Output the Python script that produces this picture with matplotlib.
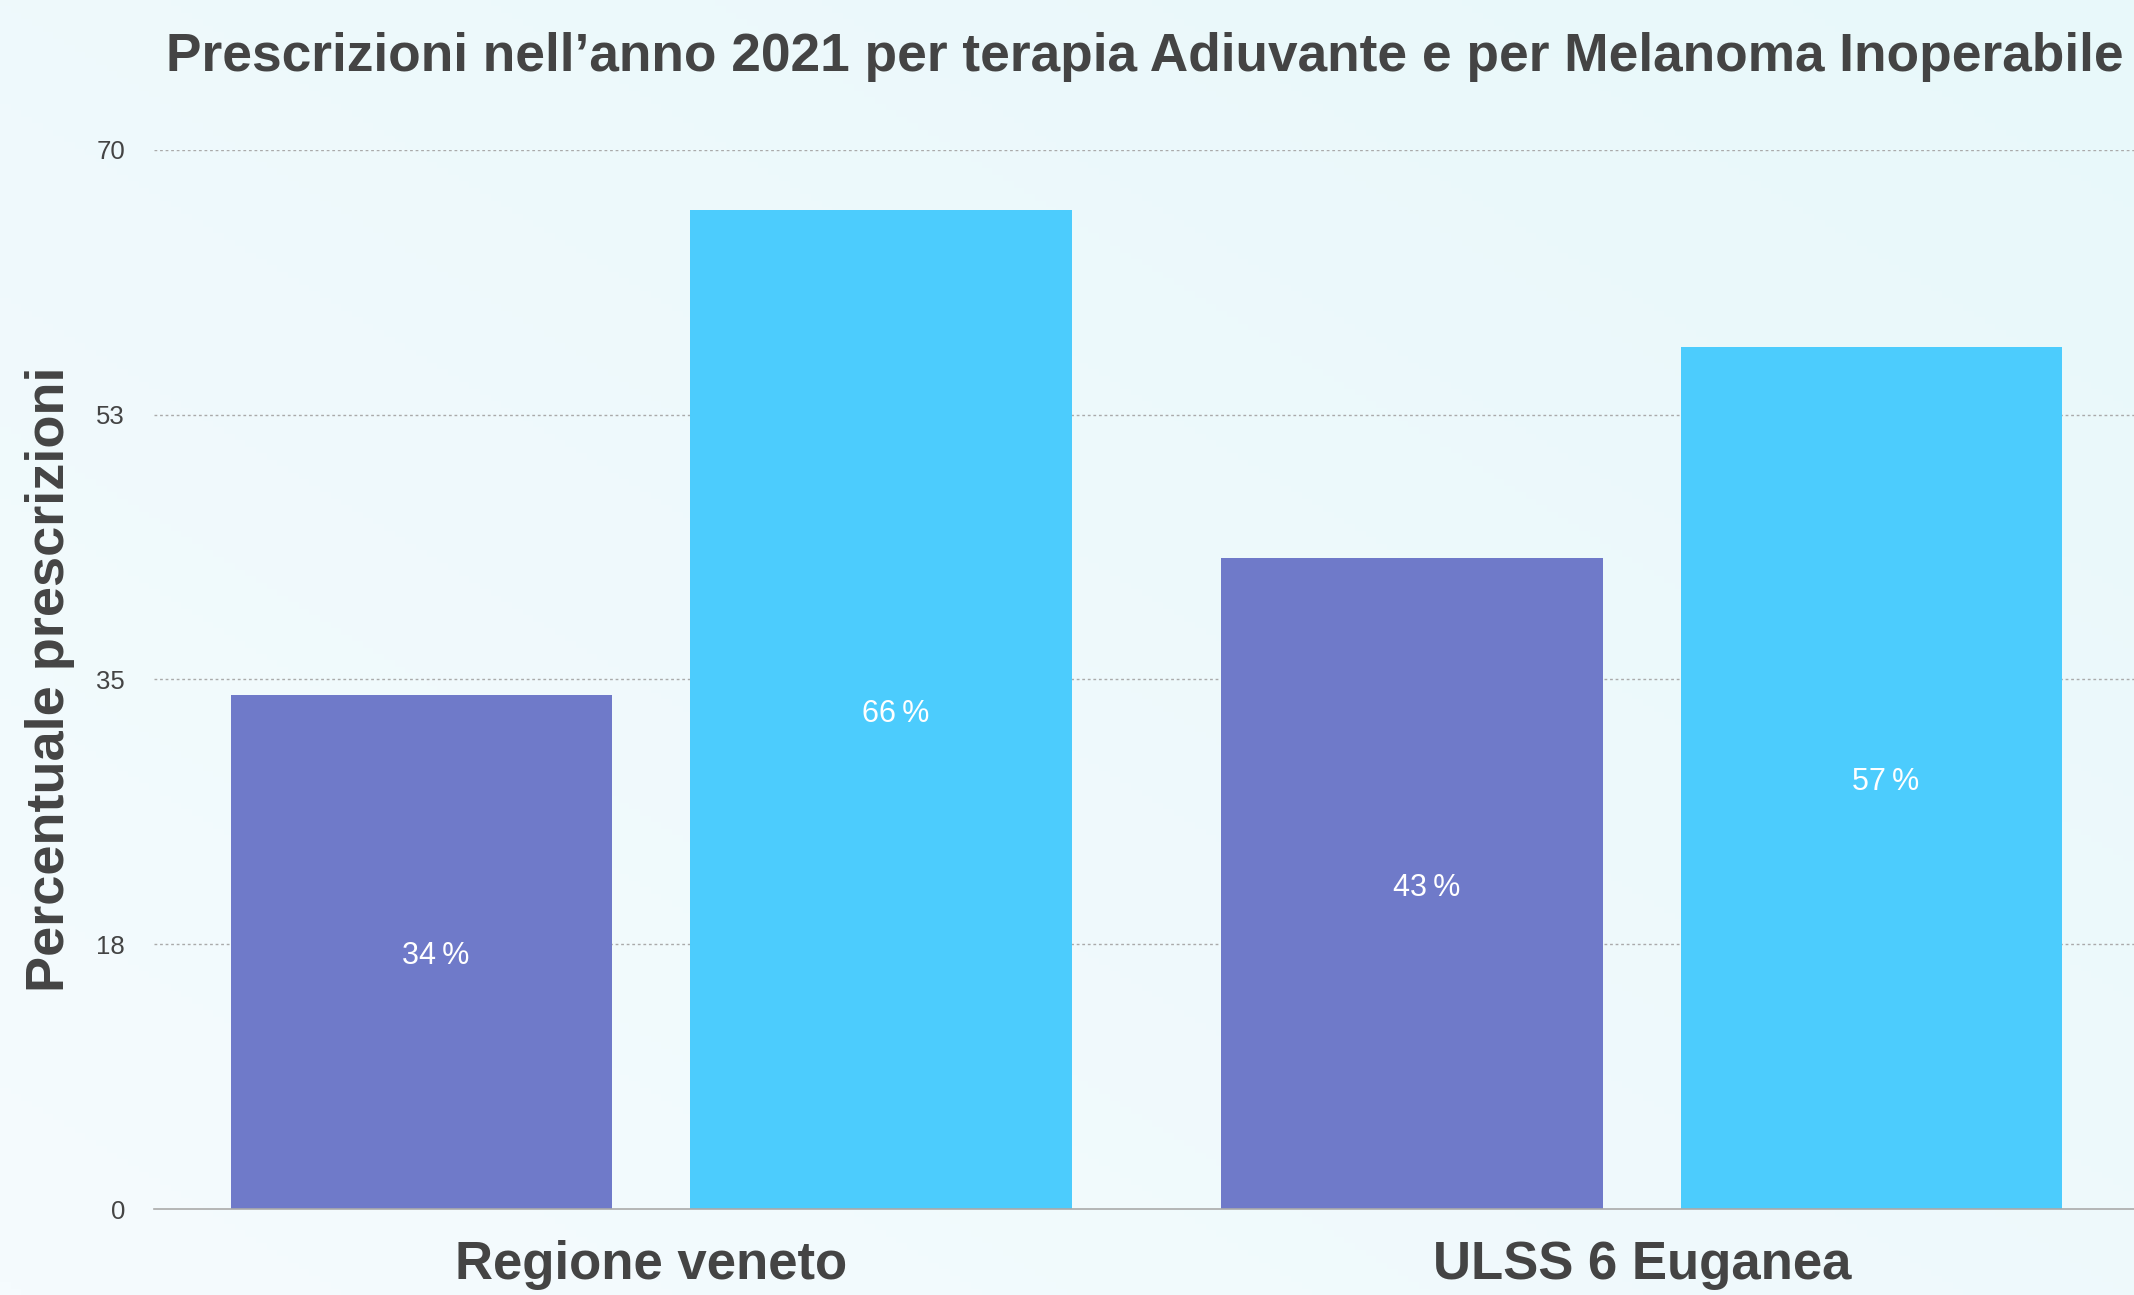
import numpy as np
import matplotlib
matplotlib.use('Agg')
from matplotlib import pyplot as plt
from matplotlib.colors import LinearSegmentedColormap

plt.rcParams['font.family'] = ['Liberation Sans', 'DejaVu Sans']

# data
categories = ['Regione veneto', 'ULSS 6 Euganea']
adiuvante = [34, 43]
inoperabile = [66, 57]
tick_vals = [0, 17.5, 35, 52.5, 70]
tick_labels = ['0', '18', '35', '53', '70']

title = 'Prescrizioni nell\u2019anno 2021 per terapia Adiuvante e per Melanoma Inoperabile'
ylabel = 'Percentuale prescrizioni'

txt = '#444444'

fig = plt.figure(figsize=(21.34, 12.95), dpi=100)

# background gradient
bg = fig.add_axes([0, 0, 1, 1], zorder=-10)
gx, gy = np.meshgrid(np.linspace(0, 1, 200), np.linspace(0, 1, 200))
g = (gx + gy) / 2
cmap = LinearSegmentedColormap.from_list('bg', ['#F5FBFE', '#E8F8FA'])
bg.imshow(g, cmap=cmap, origin='lower', extent=[0, 1, 0, 1], aspect='auto')
bg.axis('off')

ax = fig.add_axes([0.0722, 0.0664, 0.9278, 0.8178])
ax.patch.set_alpha(0)

x = np.arange(len(categories))
w = 0.385
off = 0.232
b1 = ax.bar(x - off, adiuvante, w, color='#6F7AC9', zorder=2)
b2 = ax.bar(x + off, inoperabile, w, color='#4CCCFD', zorder=2)

for bars, vals in ((b1, adiuvante), (b2, inoperabile)):
    for b, v in zip(bars, vals):
        ax.annotate(f'{v}\u2009%', (b.get_x() + b.get_width() / 2, v / 2),
                    xytext=(10.5, -3), textcoords='offset points',
                    ha='center', va='center', color='white', fontsize=22)

ax.set_xlim(-0.502, 1.497)
ax.set_ylim(0, 70)
ax.set_yticks(tick_vals)
ax.set_yticklabels(tick_labels, fontsize=18.5, color=txt)
ax.set_xticks(x)
ax.set_xticklabels(categories, fontsize=38, fontweight='bold', color=txt)
ax.tick_params(axis='both', length=0)
ax.tick_params(axis='x', pad=22)
ax.tick_params(axis='y', pad=21)

for v in tick_vals[1:]:
    ax.axhline(v, color='#aaaaaa', lw=1, ls=(0, (2, 2)), zorder=1)

for s in ['top', 'right', 'left']:
    ax.spines[s].set_visible(False)
ax.spines['bottom'].set_color('#aaaaaa')
ax.spines['bottom'].set_linewidth(1.2)

fig.text(0.5366, 0.956, title, ha='center', va='center', fontsize=38.3,
         fontweight='bold', color=txt)
fig.text(0.0234, 0.4757, ylabel, ha='center', va='center', rotation=90,
         fontsize=39, fontweight='bold', color=txt)

fig.savefig('out.png', dpi=100)
